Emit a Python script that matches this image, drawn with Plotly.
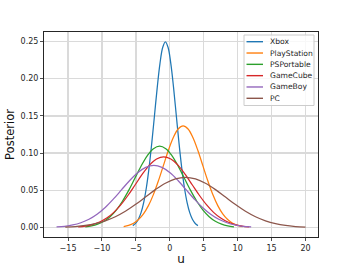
import plotly.graph_objects as go

# ---------------- data ----------------
names = ["Xbox", "PlayStation", "PSPortable", "GameCube", "GameBoy", "PC"]
colors = ["#1f77b4", "#ff7f0e", "#2ca02c", "#d62728", "#9467bd", "#8c564b"]

xbox_u = [-5.45, -5.05, -4.65, -4.25, -3.85, -3.45, -3.05, -2.65, -2.25, -1.85, -1.45, -1.05, -0.65,
          -0.25, 0.15, 0.55, 0.95, 1.35, 1.75, 2.15, 2.55, 2.95, 3.35, 3.75, 4.15]
xbox_p = [0.00277, 0.00568, 0.01096, 0.01984, 0.03374, 0.05393, 0.08095, 0.11416, 0.15123, 0.18821,
          0.22004, 0.24167, 0.24934, 0.24167, 0.22004, 0.18821, 0.15123, 0.11416, 0.08095, 0.05393,
          0.03374, 0.01984, 0.01096, 0.00568, 0.00277]

ps_u = [-6.80, -6.07, -5.34, -4.61, -3.88, -3.15, -2.42, -1.69, -0.96, -0.23, 0.50, 1.23, 1.96,
        2.69, 3.42, 4.15, 4.88, 5.61, 6.34, 7.07, 7.80, 8.53, 9.26, 9.99, 10.72]
ps_p = [0.00152, 0.00311, 0.00600, 0.01087, 0.01849, 0.02955, 0.04436, 0.06255, 0.08287, 0.10313,
        0.12057, 0.13242, 0.13662, 0.13242, 0.12057, 0.10313, 0.08287, 0.06255, 0.04436, 0.02955,
        0.01849, 0.01087, 0.00600, 0.00311, 0.00152]

psp_u = [-12.45, -11.54, -10.63, -9.71, -8.80, -7.89, -6.98, -6.06, -5.15, -4.24, -3.33, -2.41, -1.50,
         -0.59, 0.33, 1.24, 2.15, 3.06, 3.98, 4.89, 5.80, 6.71, 7.63, 8.54, 9.45]
psp_p = [0.00121, 0.00249, 0.00480, 0.00870, 0.01479, 0.02364, 0.03548, 0.05004, 0.06629, 0.08250,
         0.09646, 0.10594, 0.10930, 0.10594, 0.09646, 0.08250, 0.06629, 0.05004, 0.03548, 0.02364,
         0.01479, 0.00870, 0.00480, 0.00249, 0.00121]

gc_u = [-13.5, -12.45, -11.4, -10.35, -9.3, -8.25, -7.2, -6.15, -5.1, -4.05, -3.0, -1.95, -0.9,
        0.15, 1.2, 2.25, 3.3, 4.35, 5.4, 6.45, 7.5, 8.55, 9.6, 10.65, 11.7]
gc_p = [0.00106, 0.00216, 0.00417, 0.00756, 0.01286, 0.02054, 0.03084, 0.04349, 0.05761, 0.07170,
        0.08383, 0.09206, 0.09499, 0.09206, 0.08383, 0.07170, 0.05761, 0.04349, 0.03084, 0.02054,
        0.01286, 0.00756, 0.00417, 0.00216, 0.00106]

gb_u = [-16.69, -15.50, -14.30, -13.11, -11.91, -10.72, -9.52, -8.33, -7.13, -5.94, -4.74, -3.55, -2.35,
        -1.16, 0.04, 1.24, 2.43, 3.63, 4.82, 6.02, 7.21, 8.41, 9.60, 10.80, 11.99]
gb_p = [0.00093, 0.00190, 0.00367, 0.00664, 0.01130, 0.01805, 0.02710, 0.03821, 0.05062, 0.06300,
        0.07366, 0.08089, 0.08346, 0.08089, 0.07366, 0.06300, 0.05062, 0.03821, 0.02710, 0.01805,
        0.01130, 0.00664, 0.00367, 0.00190, 0.00093]

pc_u = [-15.4, -13.93, -12.45, -10.98, -9.5, -8.03, -6.55, -5.08, -3.6, -2.13, -0.65, 0.83, 2.3,
        3.78, 5.25, 6.73, 8.2, 9.68, 11.15, 12.63, 14.1, 15.58, 17.05, 18.53, 20.0]
pc_p = [0.00075, 0.00154, 0.00297, 0.00538, 0.00915, 0.01462, 0.02195, 0.03096, 0.04101, 0.05104,
        0.05967, 0.06554, 0.06762, 0.06554, 0.05967, 0.05104, 0.04101, 0.03096, 0.02195, 0.01462,
        0.00915, 0.00538, 0.00297, 0.00154, 0.00075]

xs = [xbox_u, ps_u, psp_u, gc_u, gb_u, pc_u]
ys = [xbox_p, ps_p, psp_p, gc_p, gb_p, pc_p]

x_ticks = [-15, -10, -5, 0, 5, 10, 15, 20]
y_ticks = [0.00, 0.05, 0.10, 0.15, 0.20, 0.25]

# ---------------- figure ----------------
W, H = 354, 266
L, R, T, B = 44, 318, 32, 237  # plot area in pixels

fig = go.Figure()
for n, c, x, y in zip(names, colors, xs, ys):
    fig.add_trace(go.Scatter(x=x, y=y, mode="lines", name=n, showlegend=False,
                             line=dict(color=c, width=1.25, shape="spline", smoothing=1.0)))

font = "DejaVu Sans"
axis_common = dict(showline=True, linecolor="#262626", linewidth=1, mirror=True,
                   ticks="outside", ticklen=3, tickwidth=0.8, tickcolor="#262626",
                   showgrid=True, gridcolor="#dadada", gridwidth=1.3, zeroline=False,
                   automargin=False,
                   tickfont=dict(family=font, size=8, color="#262626"))

fig.update_xaxes(range=[-18.54, 21.84], tickvals=x_ticks,
                 title=dict(text="u", font=dict(family=font, size=12, color="#111"), standoff=7),
                 **axis_common)
fig.update_yaxes(range=[-0.0125, 0.2625], tickvals=y_ticks, tickformat=".2f",
                 title=dict(text="Posterior", font=dict(family=font, size=11.5, color="#111"), standoff=3),
                 **axis_common)

# manual matplotlib-style legend (pixel positions converted to paper coords)
def px(xp):
    return (xp - L) / (R - L)

def py(yp):
    return (B - yp) / (B - T)

shapes = [dict(type="rect", xref="paper", yref="paper", x0=px(244), x1=px(314), y0=py(105.5), y1=py(35),
               line=dict(color="#cccccc", width=1), fillcolor="rgba(255,255,255,0.8)", layer="above")]
annotations = []
y0 = 41.7
step = 11.32
for i, (n, c) in enumerate(zip(names, colors)):
    yy = y0 + i * step
    shapes.append(dict(type="line", xref="paper", yref="paper", x0=px(246.5), x1=px(263), y0=py(yy), y1=py(yy),
                       line=dict(color=c, width=1.4), layer="above"))
    annotations.append(dict(xref="paper", yref="paper", x=px(268), y=py(yy), text=n, showarrow=False,
                            xanchor="left", yanchor="middle",
                            font=dict(family=font, size=7.6, color="#262626")))

fig.update_layout(width=W, height=H, margin=dict(l=L, r=W - R, t=T, b=H - B),
                  plot_bgcolor="white", paper_bgcolor="white",
                  shapes=shapes, annotations=annotations, showlegend=False)

fig.write_html("out.html", config={"displayModeBar": False, "staticPlot": True},
               post_script="document.body.style.margin='0px';")
